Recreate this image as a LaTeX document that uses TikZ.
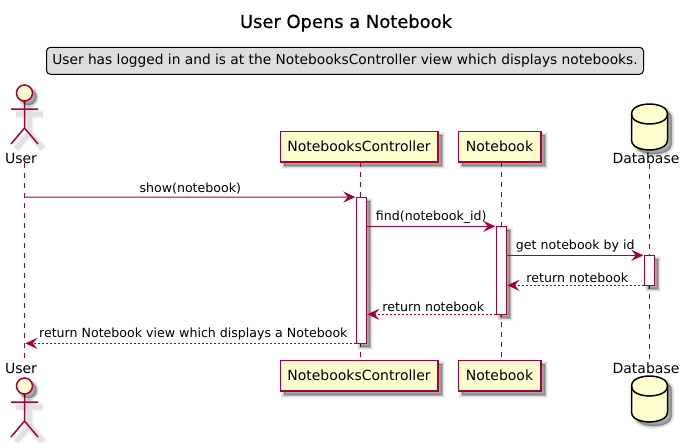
\documentclass[tikz,border=0pt]{standalone}
\usepackage{fontspec}
\setmainfont{DejaVu Sans}
\newfontfamily\titlefont[FakeBold=0.6]{DejaVu Sans}
\usetikzlibrary{positioning,calc,arrows.meta}

\definecolor{umlred}{HTML}{A80036}
\definecolor{umlfill}{HTML}{FEFECE}
\definecolor{umlnote}{HTML}{DDDDDD}

\tikzset{
    softshadow/.style={
        preaction={draw=black,fill=black,opacity=.05,line width=6pt,transform canvas={shift={(4pt,-4pt)}}},
        preaction={draw=black,fill=black,opacity=.08,line width=4pt,transform canvas={shift={(4pt,-4pt)}}},
        preaction={draw=black,fill=black,opacity=.10,line width=2pt,transform canvas={shift={(4pt,-4pt)}}},
        preaction={draw=black,fill=black,opacity=.12,line width=.5pt,transform canvas={shift={(4pt,-4pt)}}}},
    lineshadow/.style={
        preaction={draw=black,opacity=.05,line width=8pt,transform canvas={shift={(5pt,-5pt)}}},
        preaction={draw=black,opacity=.07,line width=5pt,transform canvas={shift={(5pt,-5pt)}}}},
    participant/.style={draw=umlred,fill=umlfill,line width=1.5pt,minimum width=#1,minimum height=30.5pt,inner sep=0pt,outer sep=0pt,softshadow},
    activebox/.style={draw=umlred,fill=white,line width=1pt,minimum width=10pt,minimum height=#1,inner sep=0pt,outer sep=0pt,softshadow},
    lifeline/.style={draw=umlred,line width=1pt,dash pattern=on 5pt off 5pt},
    msg/.style={draw=umlred,line width=1pt,-{Stealth[length=12pt,width=11pt,inset=4.5pt]},shorten >=1pt},
    reply/.style={msg,dash pattern=on 2pt off 2pt},
    msglabel/.style={font=\fontsize{12.6}{15}\selectfont,inner sep=0pt,above=2.5pt},
    actorlabel/.style={font=\fontsize{14}{16}\selectfont,inner sep=0pt},
    actor/.pic={
        \draw[umlred,line width=1.5pt,lineshadow] (0,8) -- (0,35) (-13.5,16) -- (13.5,16) (-13.5,51) -- (0,35) -- (13.5,51);
        \draw[umlred,fill=umlfill,line width=1.5pt,softshadow] (0,0) circle (8);
    },
    database/.pic={
        \draw[black,fill=umlfill,line width=1.5pt,softshadow] (0,10) .. controls (0,0) and (18,0) .. (18,0) .. controls (18,0) and (36,0) .. (36,10)
            -- (36,36) .. controls (36,46) and (18,46) .. (18,46) .. controls (18,46) and (0,46) .. (0,36) -- cycle;
        \draw[black,line width=1.5pt] (0,10) .. controls (0,20) and (18,20) .. (18,20) .. controls (18,20) and (36,20) .. (36,10);
    },
}

\begin{document}
\begin{tikzpicture}[x=1pt,y=-1pt]
    \useasboundingbox (0,0) rectangle (685,442);

    \node[font=\titlefont\fontsize{17.9}{20}\selectfont] (title) at (346,23) {User Opens a Notebook};
    \node[draw=black,fill=umlnote,line width=1pt,rounded corners=4pt,minimum width=597pt,minimum height=27pt,inner sep=0pt,font=\fontsize{13.75}{16}\selectfont] (note) at (345,60.8) {User has logged in and is at the NotebooksController view which displays notebooks.};

    % Participants, once above and once below
    \foreach \side/\ybox/\ytext/\yhead/\ydb in {Top/146.5/158/93/104,Bottom/375.5/368/386/376} {
        \pic at (24.5,\yhead) {actor};
        \pic at (631.5,\ydb) {database};
        \node[actorlabel] (user\side) at (21,\ytext) {User};
        \node[participant=157.5pt] (ctrl\side) at (359,\ybox) {\fontsize{14}{16}\selectfont NotebooksController};
        \node[participant=82.5pt] (book\side) at (499.5,\ybox) {\fontsize{14}{16}\selectfont Notebook};
        \node[actorlabel] (db\side) at (646,\ytext) {Database};
    }

    % Lifelines
    \coordinate (userLine) at (24.3,197);
    \draw[lifeline] ([xshift=3.3pt]userTop.south) -- ([xshift=3.3pt]userBottom.north);
    \draw[lifeline] ([xshift=1.3pt]ctrlTop.south) -- ([xshift=1.3pt]ctrlBottom.north);
    \draw[lifeline] ([xshift=2.2pt]bookTop.south) -- ([xshift=2.2pt]bookBottom.north);
    \draw[lifeline] ([xshift=3.3pt]dbTop.south) -- ([xshift=3.3pt]dbBottom.north);

    \node[activebox=146.3pt] (ctrlAct) at (361.3,270.2) {};
    \node[activebox=88pt] (bookAct) at (501.3,270.3) {};
    \node[activebox=30pt] (dbAct) at (649.3,270.3) {};

    % Messages
    \draw[msg] (userLine) -- (ctrlAct.north west) node[msglabel,midway] {show(notebook)};
    \draw[msg] (ctrlAct.east |- bookAct.north) -- (bookAct.north west) node[msglabel,midway] {find(notebook\_id)};
    \draw[msg] (bookAct.east |- dbAct.north) -- (dbAct.north west) node[msglabel,midway] {get notebook by id};
    \draw[reply] (dbAct.south west) -- (bookAct.east |- dbAct.south) node[msglabel,midway,xshift=2pt] {return notebook};
    \draw[reply] (bookAct.south west) -- (ctrlAct.east |- bookAct.south) node[msglabel,midway,xshift=2pt] {return notebook};
    \draw[reply] (ctrlAct.south west) -- (userLine |- ctrlAct.south) node[msglabel,midway,xshift=3pt] {return Notebook view which displays a Notebook};
\end{tikzpicture}
\end{document}
